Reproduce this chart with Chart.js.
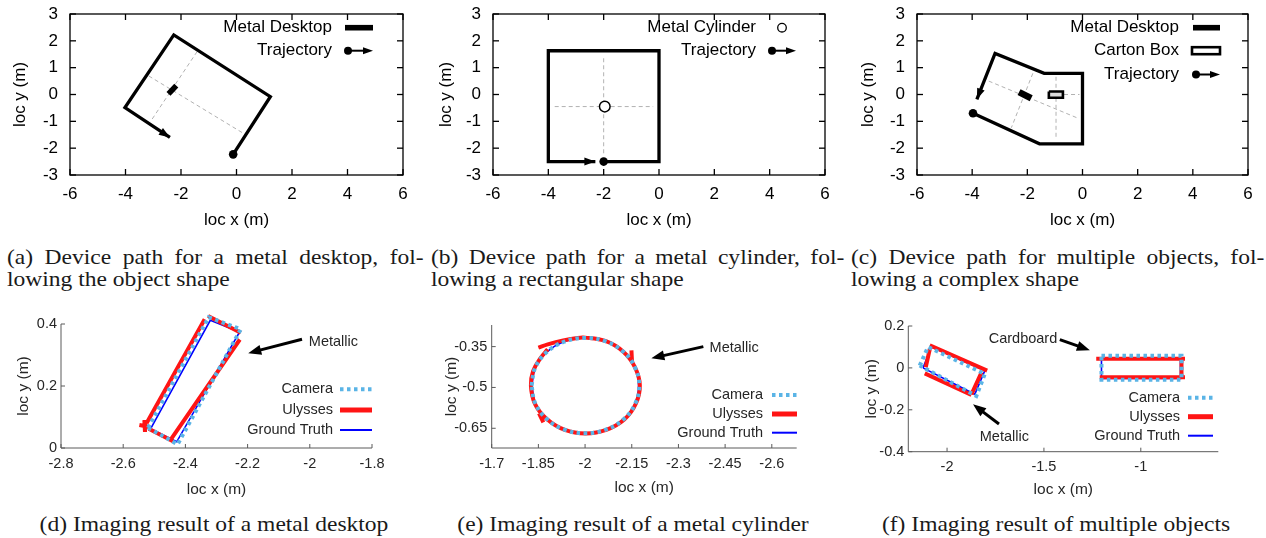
<!DOCTYPE html>
<html>
<head>
<meta charset="utf-8">
<script src="https://cdn.jsdelivr.net/npm/chart.js@4.4.1/dist/chart.umd.min.js"></script>
<style>
    body { margin: 0; background: #fff; width: 1266px; height: 538px; overflow: hidden; position: relative; }
    canvas { position: absolute; }
    .cap {
        position: absolute;
        font-family: "Liberation Serif", "Times New Roman", serif;
        font-size: 21px;
        line-height: 22.4px;
        color: #1a1a1a;
        white-space: nowrap;
        transform-origin: 0 0;
        transform: scaleX(1.12);
    }
    .cap.j { white-space: normal; text-align: justify; text-align-last: justify; }
    .cap.c { text-align: center; width: 500px; transform-origin: 50% 0; }
</style>
</head>
<body>
<canvas id="ca" width="420" height="232" style="left:0px;top:0px"></canvas>
<canvas id="cb" width="420" height="232" style="left:420px;top:0px"></canvas>
<canvas id="cc" width="426" height="232" style="left:840px;top:0px"></canvas>
<canvas id="cd" width="420" height="212" style="left:0px;top:300px"></canvas>
<canvas id="ce" width="420" height="212" style="left:420px;top:300px"></canvas>
<canvas id="cf" width="426" height="212" style="left:840px;top:300px"></canvas>

<div class="cap j" style="left:7px;top:246px;width:372px">(a) Device path for a metal desktop, fol-</div>
<div class="cap" style="left:7px;top:268px">lowing the object shape</div>
<div class="cap j" style="left:431px;top:246px;width:369px">(b) Device path for a metal cylinder, fol-</div>
<div class="cap" style="left:431px;top:268px">lowing a rectangular shape</div>
<div class="cap j" style="left:851px;top:246px;width:369px">(c) Device path for multiple objects, fol-</div>
<div class="cap" style="left:851px;top:268px">lowing a complex shape</div>
<div class="cap c" style="left:-36px;top:513px">(d) Imaging result of a metal desktop</div>
<div class="cap c" style="left:383px;top:513px">(e) Imaging result of a metal cylinder</div>
<div class="cap c" style="left:806px;top:513px">(f) Imaging result of multiple objects</div>

<script>
const SANS = '"Liberation Sans", Arial, Helvetica, sans-serif';
const CAMERA = '#5ab4e6';
const ULYSSES = '#ff1414';
const TRUTH = '#0000ff';

// ---- (a) device path around a metal desktop ----
const trajA_x = [-0.12, 1.22, -2.26, -4.02, -2.40];
const trajA_y = [-2.23, -0.08, 2.22, -0.49, -1.60];
const deskA_x = [-2.45, -2.17];
const deskA_y = [0.02, 0.33];
const guideA_x = [-3.16, 0.30, null, -1.42, -3.10];
const guideA_y = [0.69, -1.48, null, 1.60, -1.01];

// ---- (b) device path around a metal cylinder ----
const trajB_x = [-2.0, 0, 0, -4, -4, -2.3];
const trajB_y = [-2.5, -2.5, 1.63, 1.63, -2.5, -2.5];
const cylB_x = [-1.96];
const cylB_y = [-0.45];
const guideB_x = [-2.0, -2.0, null, -3.77, -0.21];
const guideB_y = [1.35, -2.25, null, -0.45, -0.45];

// ---- (c) device path around multiple objects ----
const trajC_x = [-3.97, -1.56, 0, 0, -1.39, -3.17, -3.83];
const trajC_y = [-0.70, -1.84, -1.84, 0.79, 0.79, 1.53, -0.18];
const deskC_x = [-2.30, -1.86];
const deskC_y = [0.09, -0.14];
const boxC_x = [-1.22, -0.71, -0.71, -1.22, -1.22];
const boxC_y = [0.11, 0.11, -0.12, -0.12, 0.11];
const guideC_x = [-3.40, -0.15, null, -1.80, -2.58, null, -0.96, -0.96, null, -0.67, -0.11];
const guideC_y = [0.50, -0.89, null, 0.79, -1.24, null, 0.66, -1.67, null, 0.0, 0.0];

// ---- (d) imaging of a metal desktop ----
const camD_x = [-2.52, -2.325, -2.222, -2.425, -2.52];
const camD_y = [0.065, 0.422, 0.383, 0.012, 0.065];
const ulyD_x = [-2.525, -2.338, null, -2.327, -2.222, null, -2.225, -2.445, null, -2.44, -2.518, null, -2.548, -2.514, null, -2.532, -2.530];
const ulyD_y = [0.080, 0.415, null, 0.426, 0.372, null, 0.350, 0.030, null, 0.022, 0.062, null, 0.074, 0.068, null, 0.090, 0.052];
const gtD_x = [-2.512, -2.32, -2.226, -2.428, -2.512];
const gtD_y = [0.062, 0.412, 0.374, 0.020, 0.062];

// ---- (e) imaging of a metal cylinder ----
const camE_x = [-1.828, -1.840, -1.877, -1.933, -2.000, -2.067, -2.123, -2.160, -2.174, -2.161, -2.124, -2.067, -2.000, -1.934, -1.878, -1.840, -1.828];
const camE_y = [-0.493, -0.427, -0.370, -0.332, -0.318, -0.331, -0.369, -0.425, -0.492, -0.560, -0.617, -0.655, -0.668, -0.655, -0.617, -0.559, -0.493];
const ulyE_x = [-1.850, -1.880, -1.930, -1.970, -2.000, -2.067, -2.122, -2.160, -2.176, -2.163, -2.126, -2.068, -2.002, -1.935, -1.878, -1.839, -1.826, -1.833, -1.857, -1.880, null, -2.149, -2.151, null, -1.852, -1.866];
const ulyE_y = [-0.354, -0.342, -0.327, -0.319, -0.317, -0.330, -0.368, -0.425, -0.492, -0.560, -0.618, -0.656, -0.669, -0.656, -0.617, -0.560, -0.493, -0.440, -0.392, -0.360, null, -0.364, -0.410, null, -0.595, -0.628];
const gtE_x = [-1.829, -1.841, -1.878, -1.934, -2.001, -2.067, -2.122, -2.159, -2.172, -2.160, -2.123, -2.066, -2.000, -1.935, -1.879, -1.841, -1.829];
const gtE_y = [-0.493, -0.426, -0.369, -0.331, -0.318, -0.331, -0.369, -0.426, -0.493, -0.560, -0.617, -0.655, -0.668, -0.655, -0.617, -0.560, -0.493];

// ---- (f) imaging of a metal plate and a cardboard box ----
const camF_x = [-2.141, -2.098, -1.805, -1.849, -2.141, null, -1.203, -0.790, -0.790, -1.203, -1.203];
const camF_y = [0.011, 0.100, -0.029, -0.134, 0.011, null, 0.058, 0.058, -0.056, -0.056, 0.058];
const ulyF_x = [-2.089, -1.793, null, -2.115, -1.874, null, -2.089, -2.110, null, -1.822, -1.874, null, -1.230, -0.772, null, -0.790, -0.790, null, -0.772, -1.212];
const ulyF_y = [0.108, -0.013, null, -0.026, -0.129, null, 0.090, 0.003, null, -0.021, -0.126, null, 0.044, 0.044, null, 0.044, -0.045, null, -0.045, -0.045];
const gtF_x = [-2.124, -2.081, -1.805, -1.857, -2.124, null, -1.203, -0.795, -0.795, -1.203, -1.203];
const gtF_y = [0.000, 0.100, -0.013, -0.126, 0.000, null, 0.045, 0.045, -0.050, -0.050, 0.045];

// tick values of every panel
const ticksTopX = [-6, -4, -2, 0, 2, 4, 6];
const ticksTopY = [-3, -2, -1, 0, 1, 2, 3];
const ticksD_x = [-2.8, -2.6, -2.4, -2.2, -2, -1.8];
const ticksD_y = [0, 0.2, 0.4];
const ticksE_x = [-1.7, -1.85, -2, -2.15, -2.3, -2.45, -2.6];
const ticksE_y = [-0.65, -0.5, -0.35];
const ticksF_x = [-2, -1.5, -1];
const ticksF_y = [-0.4, -0.2, 0, 0.2];

// Legends, frames and annotations, per canvas
const decor = {
    ca: { frame: 'box', font: 17, textRight: 332, legend: [
        { label: 'Metal Desktop', kind: 'bar', y: 27.7, x0: 345, x1: 373 },
        { label: 'Trajectory', kind: 'traj', y: 50.7, x0: 348, x1: 373 }] },
    cb: { frame: 'box', font: 17, textRight: 336, legend: [
        { label: 'Metal Cylinder', kind: 'ring', y: 27.7, x0: 362, x1: 362 },
        { label: 'Trajectory', kind: 'traj', y: 50.7, x0: 352, x1: 376 }] },
    cc: { frame: 'box', font: 17, textRight: 339, legend: [
        { label: 'Metal Desktop', kind: 'bar', y: 27.7, x0: 353, x1: 380 },
        { label: 'Carton Box', kind: 'box', y: 50.7, x0: 352, x1: 380 },
        { label: 'Trajectory', kind: 'traj', y: 74.5, x0: 356, x1: 380 }] },
    cd: { frame: 'axes', font: 14.5, textRight: 333, legend: [
        { label: 'Camera', kind: 'cam', y: 89.3, x0: 340, x1: 372 },
        { label: 'Ulysses', kind: 'uly', y: 110, x0: 340, x1: 372 },
        { label: 'Ground Truth', kind: 'gt', y: 130, x0: 340, x1: 372 }],
        notes: [{ text: 'Metallic', tx: -2.003, ty: 0.343, fx: -2.025, fy: 0.351, px: -2.198, py: 0.306 }] },
    ce: { frame: 'axes', font: 14.5, textRight: 343, legend: [
        { label: 'Camera', kind: 'cam', y: 95, x0: 352, x1: 377 },
        { label: 'Ulysses', kind: 'uly', y: 114, x0: 352, x1: 377 },
        { label: 'Ground Truth', kind: 'gt', y: 132.7, x0: 352, x1: 377 }],
        notes: [{ text: 'Metallic', tx: -2.40, ty: -0.354, fx: -2.38, fy: -0.350, px: -2.213, py: -0.393 }] },
    cf: { frame: 'axes', font: 14.5, textRight: 340, legend: [
        { label: 'Camera', kind: 'cam', y: 97.7, x0: 348, x1: 373 },
        { label: 'Ulysses', kind: 'uly', y: 116.7, x0: 348, x1: 373 },
        { label: 'Ground Truth', kind: 'gt', y: 135.7, x0: 348, x1: 373 }],
        notes: [
            { text: 'Cardboard', tx: -1.785, ty: 0.140, fx: -1.418, fy: 0.135, px: -1.263, py: 0.084 },
            { text: 'Metallic', tx: -1.831, ty: -0.328, fx: -1.732, fy: -0.268, px: -1.866, py: -0.174 }] }
};

const lineStyles = {
    cam: { color: CAMERA, width: 4, dash: [3.5, 3.5] },
    uly: { color: ULYSSES, width: 5, dash: [] },
    gt: { color: TRUTH, width: 2, dash: [] }
};

function pts(xs, ys) {
    return xs.map((x, i) => ({ x: x, y: ys[i] }));
}

function head(ctx, x0, y0, x1, y1, len, hw) {
    const a = Math.atan2(y1 - y0, x1 - x0);
    const c = Math.cos(a), s = Math.sin(a);
    ctx.beginPath();
    ctx.moveTo(x1, y1);
    ctx.lineTo(x1 - len * c + hw * s, y1 - len * s - hw * c);
    ctx.lineTo(x1 - len * c - hw * s, y1 - len * s + hw * c);
    ctx.closePath();
    ctx.fill();
}

function seg(ctx, x0, y0, x1, y1) {
    ctx.beginPath();
    ctx.moveTo(x0, y0);
    ctx.lineTo(x1, y1);
    ctx.stroke();
}

const decorPlugin = {
    id: 'decor',
    afterDatasetsDraw(chart) {
        const d = decor[chart.canvas.id];
        const ctx = chart.ctx, a = chart.chartArea;
        const sx = chart.scales.x, sy = chart.scales.y;
        ctx.save();

        // arrow heads at the end of trajectories
        chart.data.datasets.forEach((ds, i) => {
            if (!ds.arrowEnd) return;
            const el = chart.getDatasetMeta(i).data;
            const p = el[el.length - 1], q = el[el.length - 2];
            ctx.fillStyle = '#000';
            head(ctx, q.x, q.y, p.x, p.y, 11, 4);
        });

        // frame with inner ticks
        if (d.frame === 'box') {
            ctx.strokeStyle = '#000';
            ctx.lineWidth = 1.3;
            ctx.strokeRect(a.left, a.top, a.right - a.left, a.bottom - a.top);
            sx.ticks.forEach(t => {
                const px = sx.getPixelForValue(t.value);
                seg(ctx, px, a.bottom, px, a.bottom - 6);
                seg(ctx, px, a.top, px, a.top + 6);
            });
            sy.ticks.forEach(t => {
                const py = sy.getPixelForValue(t.value);
                seg(ctx, a.left, py, a.left + 6, py);
                seg(ctx, a.right, py, a.right - 6, py);
            });
        } else {
            ctx.strokeStyle = '#5a5a5a';
            ctx.lineWidth = 1;
            seg(ctx, a.left, a.top, a.left, a.bottom);
            seg(ctx, a.left, a.bottom, a.right, a.bottom);
            sx.ticks.forEach(t => {
                const px = sx.getPixelForValue(t.value);
                seg(ctx, px, a.bottom, px, a.bottom - 4);
            });
            sy.ticks.forEach(t => {
                const py = sy.getPixelForValue(t.value);
                seg(ctx, a.left, py, a.left + 4, py);
            });
        }

        // legend
        const textColor = d.frame === 'box' ? '#000' : '#262626';
        ctx.font = d.font + 'px ' + SANS;
        ctx.textBaseline = 'middle';
        d.legend.forEach(it => {
            ctx.fillStyle = textColor;
            ctx.textAlign = 'right';
            ctx.fillText(it.label, d.textRight, it.y);
            ctx.setLineDash([]);
            if (it.kind === 'bar') {
                ctx.fillStyle = '#000';
                ctx.fillRect(it.x0, it.y - 2.8, it.x1 - it.x0, 5.6);
            } else if (it.kind === 'box') {
                ctx.fillStyle = '#fff';
                ctx.strokeStyle = '#000';
                ctx.lineWidth = 2.6;
                ctx.fillRect(it.x0, it.y - 3.5, it.x1 - it.x0, 7);
                ctx.strokeRect(it.x0, it.y - 3.5, it.x1 - it.x0, 7);
            } else if (it.kind === 'ring') {
                ctx.fillStyle = '#fff';
                ctx.strokeStyle = '#000';
                ctx.lineWidth = 1.3;
                ctx.beginPath();
                ctx.arc(it.x0, it.y, 4.3, 0, Math.PI * 2);
                ctx.fill();
                ctx.stroke();
            } else if (it.kind === 'traj') {
                ctx.fillStyle = '#000';
                ctx.strokeStyle = '#000';
                ctx.lineWidth = 2;
                ctx.beginPath();
                ctx.arc(it.x0, it.y, 4, 0, Math.PI * 2);
                ctx.fill();
                seg(ctx, it.x0, it.y, it.x1 - 6, it.y);
                head(ctx, it.x0, it.y, it.x1, it.y, 10, 3.5);
            } else {
                const st = lineStyles[it.kind];
                ctx.strokeStyle = st.color;
                ctx.lineWidth = st.width;
                ctx.lineCap = 'butt';
                ctx.setLineDash(st.dash);
                seg(ctx, it.x0, it.y, it.x1, it.y);
                ctx.setLineDash([]);
            }
        });

        // text annotations with arrows
        (d.notes || []).forEach(n => {
            const fx = sx.getPixelForValue(n.fx), fy = sy.getPixelForValue(n.fy);
            const px = sx.getPixelForValue(n.px), py = sy.getPixelForValue(n.py);
            const ang = Math.atan2(py - fy, px - fx);
            ctx.strokeStyle = '#000';
            ctx.fillStyle = '#000';
            ctx.lineWidth = 3;
            seg(ctx, fx, fy, px - 10 * Math.cos(ang), py - 10 * Math.sin(ang));
            head(ctx, fx, fy, px, py, 13, 5);
            ctx.fillStyle = textColor;
            ctx.textAlign = 'left';
            ctx.fillText(n.text, sx.getPixelForValue(n.tx), sy.getPixelForValue(n.ty));
        });

        ctx.restore();
    }
};

function scale(o) {
    return {
        type: 'linear',
        min: o.min,
        max: o.max,
        reverse: !!o.reverse,
        afterBuildTicks: s => { s.ticks = o.ticks.map(v => ({ value: v })); },
        afterFit: s => {
            // fixed axis sizes, and no extra room for edge labels
            if (o.w !== undefined) s.width = o.w;
            if (o.h !== undefined) s.height = o.h;
            s.paddingTop = 0;
            s.paddingBottom = 0;
            s.paddingLeft = 0;
            s.paddingRight = 0;
        },
        grid: { display: false, drawTicks: false },
        border: { display: false },
        ticks: {
            color: o.color,
            font: { family: SANS, size: o.tickSize },
            padding: o.tickPad,
            autoSkip: false,
            maxRotation: 0,
            callback: v => String(Math.round(v * 100) / 100)
        },
        title: {
            display: true,
            text: o.title,
            color: o.color,
            font: { family: SANS, size: o.titleSize },
            padding: o.titlePad
        }
    };
}

function build(id, datasets, xs, ys, pad) {
    new Chart(document.getElementById(id), {
        type: 'scatter',
        data: { datasets: datasets },
        options: {
            responsive: false,
            animation: false,
            events: [],
            layout: { padding: pad },
            plugins: { legend: { display: false }, tooltip: { enabled: false } },
            scales: { x: xs, y: ys }
        },
        plugins: [decorPlugin]
    });
}

function path(xs, ys, extra) {
    return Object.assign({
        data: pts(xs, ys), showLine: true, pointRadius: 0, clip: false,
        borderColor: '#000', borderWidth: 3.3, borderJoinStyle: 'miter', tension: 0
    }, extra);
}

function guide(xs, ys) {
    return path(xs, ys, { borderColor: '#b2b2b2', borderWidth: 1, borderDash: [4, 3] });
}

function traj(xs, ys) {
    return path(xs, ys, {
        pointRadius: c => (c.dataIndex === 0 ? 4.3 : 0),
        pointBackgroundColor: '#000', pointBorderWidth: 0, arrowEnd: true
    });
}

function topAxes(w, titlePadY) {
    const base = { color: '#000', tickSize: 17, titleSize: 17 };
    return [
        scale(Object.assign({}, base, { min: -6, max: 6, ticks: ticksTopX, h: 57, tickPad: 9, title: 'loc x (m)', titlePad: { top: 0, bottom: 1.5 } })),
        scale(Object.assign({}, base, { min: -3, max: 3, ticks: ticksTopY, w: w, tickPad: 12, title: 'loc y (m)', titlePad: { top: titlePadY, bottom: 0 } }))
    ];
}

// first dataset is drawn on top: camera dots over Ulysses over ground truth
function imaging(cx, cy, ux, uy, gx, gy, tension) {
    return [
        path(cx, cy, { borderColor: CAMERA, borderWidth: 4, borderDash: [3.5, 3.5], borderCapStyle: 'butt', tension: tension }),
        path(ux, uy, { borderColor: ULYSSES, borderWidth: 4, borderCapStyle: 'butt', tension: tension }),
        path(gx, gy, { borderColor: TRUTH, borderWidth: 1.6, tension: tension })
    ];
}

function bottomAxes(x, y) {
    const base = { color: '#262626', tickSize: 14.5, titleSize: 15.5 };
    return [scale(Object.assign({}, base, x)), scale(Object.assign({}, base, y))];
}

// (a)
let ax = topAxes(70, 10);
build('ca', [traj(trajA_x, trajA_y), path(deskA_x, deskA_y, { borderWidth: 5.5, borderCapStyle: 'butt' }), guide(guideA_x, guideA_y)],
    ax[0], ax[1], { left: 0, top: 14, right: 17, bottom: 0 });

// (b)
ax = topAxes(73, 16);
build('cb', [traj(trajB_x, trajB_y),
    { data: pts(cylB_x, cylB_y), showLine: false, pointRadius: 5.3, pointBackgroundColor: '#fff', pointBorderColor: '#000', pointBorderWidth: 1.5, clip: false },
    guide(guideB_x, guideB_y)],
    ax[0], ax[1], { left: 0, top: 14, right: 15, bottom: 0 });

// (c)
ax = topAxes(77, 18);
build('cc', [traj(trajC_x, trajC_y),
    path(deskC_x, deskC_y, { borderWidth: 6.5, borderCapStyle: 'butt' }),
    path(boxC_x, boxC_y, { borderWidth: 2.6, fill: 'shape', backgroundColor: '#dcdcdc' }),
    guide(guideC_x, guideC_y)],
    ax[0], ax[1], { left: 0, top: 14, right: 18, bottom: 0 });

// (d)
ax = bottomAxes(
    { min: -2.8, max: -1.8, ticks: ticksD_x, h: 64, tickPad: 7, title: 'loc x (m)', titlePad: { top: 0, bottom: 13 } },
    { min: 0, max: 0.4, ticks: ticksD_y, w: 61, tickPad: 4, title: 'loc y (m)', titlePad: { top: 14, bottom: 0 } });
build('cd', imaging(camD_x, camD_y, ulyD_x, ulyD_y, gtD_x, gtD_y, 0), ax[0], ax[1], { left: 0, top: 24, right: 48, bottom: 0 });

// (e) x axis runs right-to-left
ax = bottomAxes(
    { min: -2.68, max: -1.7, reverse: true, ticks: ticksE_x, h: 64, tickPad: 7, title: 'loc x (m)', titlePad: { top: 0, bottom: 15 } },
    { min: -0.7225, max: -0.2706, ticks: ticksE_y, w: 71.7, tickPad: 4.5, title: 'loc y (m)', titlePad: { top: 22, bottom: 0 } });
build('ce', imaging(camE_x, camE_y, ulyE_x, ulyE_y, gtE_x, gtE_y, 0.4), ax[0], ax[1], { left: 0, top: 25, right: 43.3, bottom: 0 });

// (f)
ax = bottomAxes(
    { min: -2.2, max: -0.6, ticks: ticksF_x, h: 60.3, tickPad: 6.3, title: 'loc x (m)', titlePad: { top: 0, bottom: 13 } },
    { min: -0.4, max: 0.2, ticks: ticksF_y, w: 68.3, tickPad: 4, title: 'loc y (m)', titlePad: { top: 22, bottom: 0 } });
build('cf', imaging(camF_x, camF_y, ulyF_x, ulyF_y, gtF_x, gtF_y, 0), ax[0], ax[1], { left: 0, top: 26, right: 47.7, bottom: 0 });
</script>
</body>
</html>
